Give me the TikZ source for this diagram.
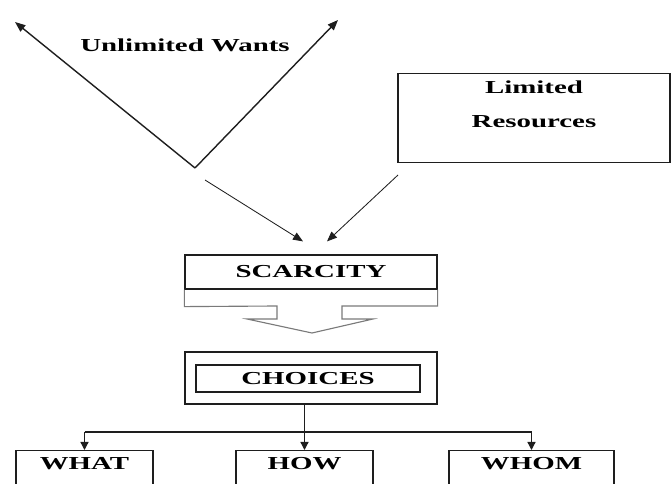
\documentclass[tikz,border=0pt]{standalone}
\usepackage{fontspec}
\setmainfont{Liberation Serif}
\usepackage{graphicx}
\usetikzlibrary{arrows.meta,positioning,calc}
\definecolor{ink}{HTML}{1E1E1E}
\definecolor{hollow}{HTML}{7A7A7A}
\newcommand{\wtxt}[1]{\scalebox{1.58}[1]{#1}}

\begin{document}
\begin{tikzpicture}[x=0.025cm, y=-0.025cm,
    font=\fontsize{13}{15}\selectfont\bfseries,
    box/.style={draw=ink, line width=0.85pt, inner sep=0pt},
    leaf/.style={box, anchor=north, minimum width=#1, inner ysep=0.17cm, text depth=1cm},
    want/.style={draw=ink, line width=1pt, -{Triangle[length=0.26cm,width=0.2cm]}},
    feed/.style={draw=ink, line width=0.6pt, -{Triangle[length=0.25cm,width=0.2cm]}},
    branch/.style={draw=ink, line width=0.9pt, -{Triangle[length=0.2cm,width=0.2cm]}},
    hollowarrow/.style={draw=hollow, line width=0.8pt, line join=miter}]
  \useasboundingbox (0,0) rectangle (671,484);
  \clip (0,0) rectangle (671,484);
  % unlimited wants
  \coordinate (vtx) at (195,168);
  \coordinate (wl) at (15,22);
  \coordinate (wr) at (338,20);
  \draw[want] (vtx) -- (wl);
  \draw[want] (vtx) -- (wr);
  \node (wants) at (185,45) {\wtxt{Unlimited Wants}};
  % limited resources
  \node[box, anchor=north, minimum width=6.8cm, inner ysep=0.19cm, align=center, text depth=0.68cm]
    (lres) at (534,73) {\wtxt{Limited}\\[9pt]\wtxt{Resources}};
  % scarcity
  \node[box, minimum width=6.3cm, minimum height=0.85cm] (scar) at (311,272) {\wtxt{SCARCITY}};
  \coordinate (f1) at (205,180);
  \coordinate (f2) at (398,175);
  \draw[feed] (f1) -- ($(scar.north)+(-8,-13)$);
  \draw[feed] (f2) -- ($(scar.north)+(16,-13)$);
  \draw[hollowarrow] (scar.south west) -- ++(0,17) -- (277,306) -- (277,319) -- (247,319)
    -- (312,333) -- (373,319) -- (342,319) -- (342,306) -- (scar.south east |- 0,306) -- (scar.south east);
  % choices
  \node[box, minimum width=6.3cm, minimum height=1.3cm] (chout) at (311,378) {};
  \node[box, minimum width=5.6cm, minimum height=0.675cm] (choices) at (308,378.5) {\wtxt{CHOICES}};
  % what, how, whom
  \foreach \name/\x/\w/\word in {what/84.5/3.425cm/WHAT, how/304.5/3.425cm/HOW, whom/531.5/4.125cm/WHOM}
    \node[leaf=\w] (\name) at (\x,450) {\wtxt{\word}};
  \coordinate (bar) at (0,432);
  \draw[branch] (chout.south -| how.north) -- (how.north);
  \draw[ink, line width=0.9pt] (what.north |- bar) -- (whom.north |- bar);
  \draw[branch] (what.north |- bar) -- (what.north);
  \draw[branch] (whom.north |- bar) -- (whom.north);
\end{tikzpicture}
\end{document}
